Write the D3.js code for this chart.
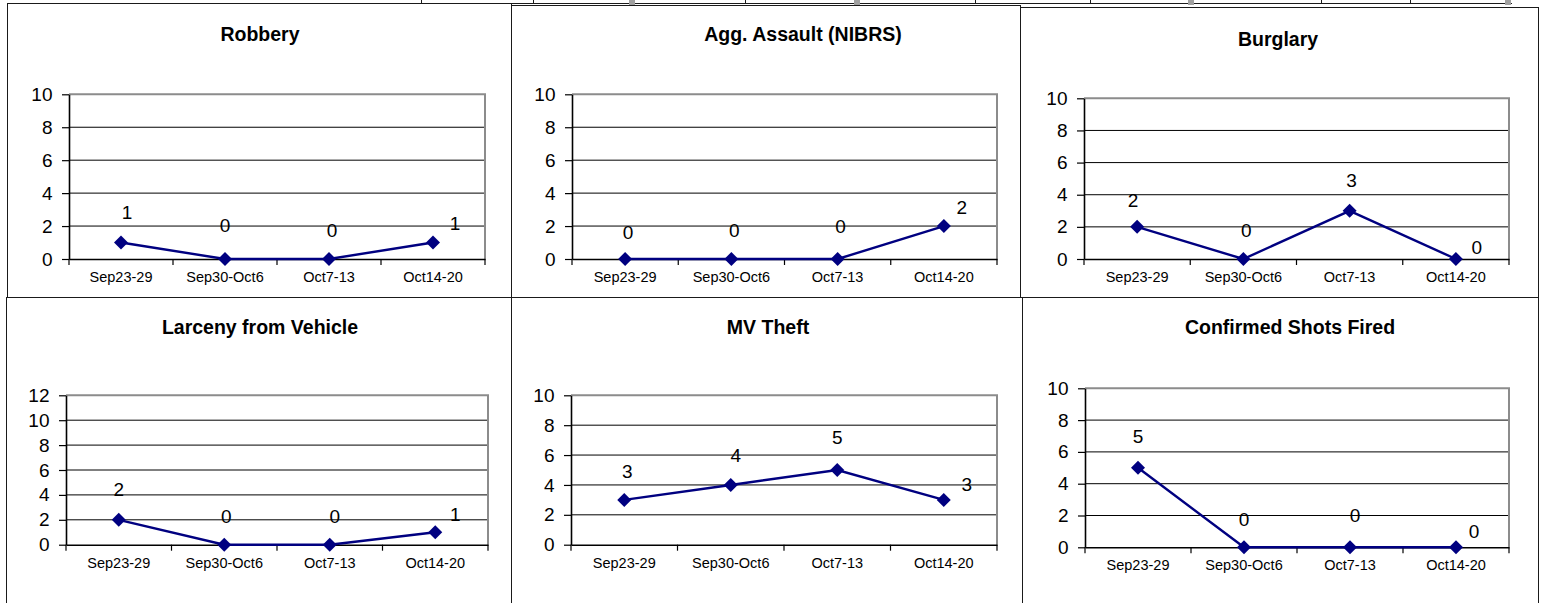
<!DOCTYPE html>
<html>
<head>
<meta charset="utf-8">
<script src="https://cdn.jsdelivr.net/npm/d3@7"></script>
<style>
  html, body { margin: 0; padding: 0; background: #fff; }
  svg { display: block; font-family: "Liberation Sans", Arial, sans-serif; }
</style>
</head>
<body>
<svg id="chart" width="1543" height="603"></svg>
<script>
// ---------- data ----------
const categories = ["Sep23-29", "Sep30-Oct6", "Oct7-13", "Oct14-20"];
const titles = ["Robbery", "Agg. Assault (NIBRS)", "Burglary", "Larceny from Vehicle", "MV Theft", "Confirmed Shots Fired"];
const robbery = [1, 0, 0, 1];
const aggAssault = [0, 0, 0, 2];
const burglary = [2, 0, 3, 0];
const larcenyFromVehicle = [2, 0, 0, 1];
const mvTheft = [3, 4, 5, 3];
const shotsFired = [5, 0, 0, 0];
const yMaxima = [10, 10, 10, 12, 10, 10];
const yStep = 2;

const seriesList = [robbery, aggAssault, burglary, larcenyFromVehicle, mvTheft, shotsFired];

// ---------- layout (positions / styles) ----------
const plotRects = [
  { l: 69,   r: 485,  t: 94.3,  b: 259 },
  { l: 572,  r: 997,  t: 94.3,  b: 259 },
  { l: 1084, r: 1509, t: 98.3,  b: 259 },
  { l: 66,   r: 488,  t: 395.3, b: 544.7 },
  { l: 571,  r: 997,  t: 395.3, b: 544.7 },
  { l: 1085, r: 1509, t: 388.3, b: 547.3 }
];
const titlePos = [
  { x: 260, y: 40.5 }, { x: 803, y: 40.5 }, { x: 1278, y: 45.5 },
  { x: 260, y: 334 },  { x: 768, y: 334 },  { x: 1290, y: 334 }
];
// label nudges (px, relative to the point; baseline)
const labelNudges = [
  [[6, -23.5], [0, -27], [3, -22], [22, -12.5]],
  [[3, -20], [3, -22], [3, -26], [18, -12]],
  [[-4, -20], [3, -22], [2, -24], [21, -5]],
  [[0, -24], [2, -21.4], [5, -21.4], [20, -11.6]],
  [[3, -22], [5, -22.7], [0, -26], [23, -9]],
  [[0, -25], [0, -21.6], [5, -25], [18, -9]]
];

const svg = d3.select("#chart");
const lineColor = "#000080";
const borderColor = "#1a1a1a";

// ---------- page frame / table remnants ----------
const frame = svg.append("g").attr("stroke", borderColor).attr("stroke-width", 1).attr("fill", "none");
const hLines = [
  [7, 1512, 3.5], [511, 1021, 5.5], [1020, 1538, 7.5], [7, 1538, 297.5]
];
hLines.forEach(([x1, x2, y]) => frame.append("line").attr("x1", x1).attr("x2", x2).attr("y1", y).attr("y2", y));
const vLines = [
  [7.5, 3, 297], [511.5, 3, 297], [1020.5, 5, 297], [1538.5, 7, 297],
  [6.5, 297, 603], [511.5, 297, 603], [1022.5, 297, 603], [1538.5, 297, 603]
];
vLines.forEach(([x, y1, y2]) => frame.append("line").attr("x1", x).attr("x2", x).attr("y1", y1).attr("y2", y2));
[421, 533, 745, 975, 1090, 1321, 1410].forEach(x =>
  frame.append("line").attr("x1", x + 0.5).attr("x2", x + 0.5).attr("y1", 0).attr("y2", 4));
[629, 854, 1188, 1505].forEach(x =>
  svg.append("rect").attr("x", x).attr("y", 0).attr("width", 6).attr("height", 5).attr("fill", "#a0a0a0"));

// ---------- panels ----------
seriesList.forEach((values, i) => {
  const pr = plotRects[i];
  const g = svg.append("g");

  const x = d3.scaleBand().domain(categories).range([pr.l, pr.r]).paddingInner(0).paddingOuter(0);
  const y = d3.scaleLinear().domain([0, yMaxima[i]]).range([pr.b, pr.t]);
  const ticks = d3.range(0, yMaxima[i] + 0.001, yStep);

  // title
  g.append("text")
    .attr("x", titlePos[i].x).attr("y", titlePos[i].y)
    .attr("text-anchor", "middle")
    .attr("font-size", "19.5px").attr("font-weight", "bold").attr("fill", "#000")
    .text(titles[i]);

  // gridlines
  g.append("g").selectAll("line")
    .data(ticks.filter(t => t > 0 && t < yMaxima[i]))
    .join("line")
    .attr("x1", pr.l).attr("x2", pr.r)
    .attr("y1", d => y(d)).attr("y2", d => y(d))
    .attr("stroke", "#000").attr("stroke-width", 1);

  // plot frame top & right (grey)
  g.append("path")
    .attr("d", `M${pr.l},${y(yMaxima[i])}H${pr.r}V${y(0)}`)
    .attr("fill", "none").attr("stroke", "#8c8c8c").attr("stroke-width", 2);

  // y axis
  const yAxis = g.append("g")
    .attr("transform", `translate(${pr.l},0)`)
    .call(d3.axisLeft(y).tickValues(ticks).tickSize(7).tickPadding(9.5).tickSizeOuter(0));
  yAxis.select(".domain").attr("stroke", "#000").attr("stroke-width", 1.6);
  yAxis.selectAll(".tick line").attr("stroke", "#000").attr("stroke-width", 1.2);
  yAxis.selectAll(".tick text")
    .attr("font-size", "19px").attr("fill", "#000")
    .attr("font-family", "'Liberation Sans', Arial, sans-serif");

  // x axis: labels centred in bands, ticks at band edges
  const xAxis = g.append("g")
    .attr("transform", `translate(0,${pr.b})`)
    .call(d3.axisBottom(x).tickSize(0).tickPadding(0).tickSizeOuter(0));
  xAxis.select(".domain").attr("stroke", "#000").attr("stroke-width", 1.6);
  xAxis.selectAll(".tick text")
    .attr("dy", null).attr("y", 23)
    .attr("font-size", "14.5px").attr("fill", "#000")
    .attr("font-family", "'Liberation Sans', Arial, sans-serif");
  const edges = categories.map(c => x(c)).concat([x.range()[1]]);
  xAxis.append("g").selectAll("line").data(edges).join("line")
    .attr("x1", d => d).attr("x2", d => d).attr("y1", 0).attr("y2", 6)
    .attr("stroke", "#000").attr("stroke-width", 1.2);

  const cx = c => x(c) + x.bandwidth() / 2;

  // line
  g.append("path")
    .datum(values)
    .attr("d", d3.line().x((d, k) => cx(categories[k])).y(d => y(d)))
    .attr("fill", "none").attr("stroke", lineColor).attr("stroke-width", 2.4);

  // diamond markers
  const sym = d3.symbol().type(d3.symbolSquare).size(98);
  g.append("g").selectAll("path").data(values).join("path")
    .attr("d", sym)
    .attr("transform", (d, k) => `translate(${cx(categories[k])},${y(d)}) rotate(45)`)
    .attr("fill", lineColor);

  // data labels
  g.append("g").selectAll("text").data(values).join("text")
    .attr("x", (d, k) => cx(categories[k]) + labelNudges[i][k][0])
    .attr("y", (d, k) => y(d) + labelNudges[i][k][1])
    .attr("text-anchor", "middle")
    .attr("font-size", "19px").attr("fill", "#000")
    .text(d => d);
});
</script>
</body>
</html>
